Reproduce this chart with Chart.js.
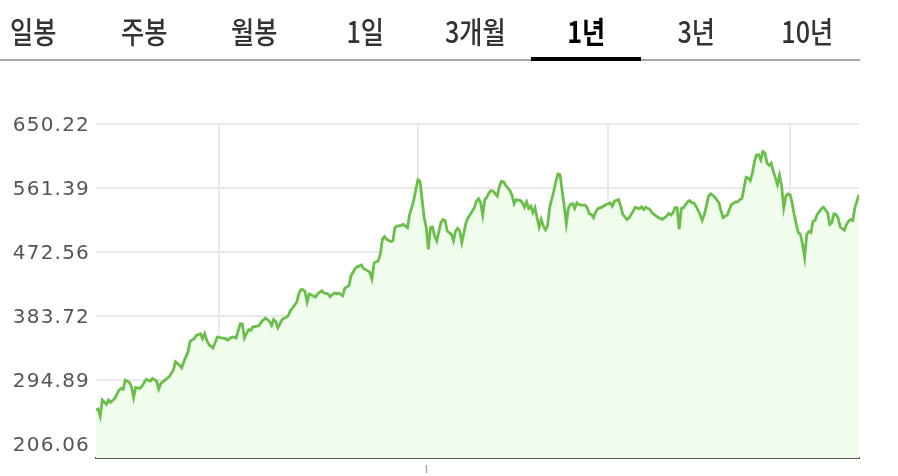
<!DOCTYPE html>
<html lang="ko">
<head>
<meta charset="utf-8">
<script src="https://cdn.jsdelivr.net/npm/chart.js@4.4.1/dist/chart.umd.min.js"></script>
<style>
  html,body{margin:0;padding:0;background:#fff;}
  body{width:898px;height:476px;position:relative;overflow:hidden;}
  #tabs{position:absolute;left:-22px;top:0;height:62px;display:flex;z-index:2;}
  .tab{width:110.5px;height:61px;position:relative;}
  .tab span{position:absolute;left:0;right:0;top:8px;text-align:center;line-height:44px;
    font:500 30px "Noto Sans CJK KR","Noto Sans",sans-serif;color:#333;
    transform:scaleX(0.84);}
  .tab.on span{color:#000;font-weight:700;}
  .tab.on::after{content:'';position:absolute;left:0;right:0;bottom:0;height:4px;background:#000;}
  #rule{position:absolute;left:0;top:59px;width:860px;height:2px;background:#aaa;z-index:1;}
  #chart{position:absolute;left:0;top:0;}
</style>
</head>
<body>
<div id="rule"></div>
<div id="tabs"></div>
<canvas id="chart" width="898" height="476"></canvas>
<script>
const tabs = ['일봉','주봉','월봉','1일','3개월','1년','3년','10년'];
const activeTab = '1년';

// day offset inside the 1 year window
const days = [0,1,2,3,5,6,7,9,11,12,13,14,16,17,18,19,21,22,23,24,25,26,27,29,30,31,33,35,37,38,40,41,42,44,45,47,48,50,51,52,53,54,56,58,60,62,63,65,66,67,69,70,71,72,73,74,75,77,78,79,81,82,83,84,85,86,87,88,89,91,92,93,94,96,97,98,99,100,101,102,103,105,106,108,109,111,112,114,115,116,118,119,121,122,124,125,127,128,130,131,132,133,134,135,136,137,138,139,141,142,143,144,146,147,149,150,151,152,153,154,155,156,157,158,159,160,161,162,163,165,166,167,168,169,170,171,172,173,174,175,176,177,178,179,181,182,183,184,185,186,187,188,189,190,192,193,194,195,196,198,199,200,201,203,204,205,206,207,208,209,210,211,212,213,214,215,216,217,219,220,221,222,223,224,225,226,227,228,229,230,231,232,234,235,236,237,238,239,240,242,244,245,246,247,248,250,251,252,254,255,257,258,260,261,262,263,265,266,268,269,271,273,274,275,276,277,278,279,280,281,283,284,285,286,287,289,290,291,292,293,294,295,296,298,299,300,301,302,303,304,306,307,308,309,310,311,312,313,314,315,316,317,318,319,320,321,322,323,324,325,326,327,328,329,330,331,332,333,334,335,336,337,338,339,340,341,342,343,344,345,347,348,350,351,352,353,354,355,356,358,359,360,361,362,363,365];
const closes = [253.4,254.8,244.7,267.2,261.3,267.2,264.0,269.5,281.0,283.3,282.0,294.8,291.6,285.7,270.5,284.7,283.3,286.5,291.2,295.7,294.8,293.4,297.1,293.4,282.4,290.2,294.8,299.5,308.6,320.2,315.5,311.9,320.2,334.0,348.6,352.3,356.9,359.2,352.3,359.2,350.0,344.0,339.5,354.6,353.3,352.3,350.5,354.6,354.6,353.3,373.0,373.0,353.3,359.2,365.1,363.8,368.4,369.8,370.6,375.3,380.9,378.9,376.2,370.6,378.9,376.2,367.5,373.0,378.9,382.2,384.4,391.3,394.7,402.9,414.4,420.3,420.3,417.6,402.9,414.4,413.0,410.0,414.4,418.9,415.8,414.4,410.7,415.8,414.4,415.8,412.0,422.2,425.8,439.6,449.8,452.0,454.4,449.8,446.5,444.3,435.1,457.1,458.9,460.3,469.6,490.2,494.0,490.2,487.1,487.9,506.4,508.6,509.6,510.9,506.4,524.7,534.0,544.5,559.2,573.0,570.7,545.4,520.2,506.4,476.4,506.4,507.2,494.8,487.9,513.3,517.8,516.5,501.7,499.5,497.1,487.9,501.7,505.4,501.7,485.7,499.5,513.3,520.2,524.7,534.0,543.1,546.4,540.9,523.8,545.4,549.1,554.7,557.8,556.9,550.0,563.8,570.7,569.8,565.1,557.8,551.4,539.5,545.4,544.0,540.9,534.8,542.2,533.0,536.2,527.1,534.0,520.2,507.2,517.8,508.6,503.3,508.6,534.0,556.9,570.7,580.9,579.9,556.9,536.2,511.9,534.0,538.5,539.5,533.0,540.9,538.5,537.6,537.6,534.0,525.7,524.7,520.2,527.9,532.6,534.8,538.5,539.5,540.9,536.2,543.1,545.4,536.2,524.7,517.8,520.2,529.3,534.8,532.6,535.4,531.6,534.8,531.6,527.1,522.4,520.6,517.8,522.4,526.1,523.8,527.1,534.0,534.0,504.0,533.0,534.0,542.2,544.0,540.9,540.9,536.2,524.7,516.5,524.7,536.2,550.0,553.3,551.4,548.6,540.9,529.3,520.2,522.4,523.8,531.6,538.5,542.2,542.2,545.4,546.8,561.6,576.2,575.4,571.6,582.2,598.3,607.5,607.5,600.6,612.0,609.8,596.0,592.7,596.0,584.5,575.4,566.1,578.9,563.8,534.0,550.0,553.3,552.3,540.9,524.7,510.9,499.5,497.1,483.3,465.0,497.1,500.9,499.5,515.5,516.5,524.7,532.6,534.8,527.1,510.9,513.3,525.7,524.7,520.2,507.2,502.7,510.9,515.5,517.8,516.5,534.0,552.3];

const yTicks = [206.06, 294.89, 383.72, 472.56, 561.39, 650.22];
const yMin = 186.75;
const quarterDays = [59, 154, 245, 332];
const markerDay = 158;

const tabRow = document.querySelector('#tabs');
tabs.forEach(t=>{
  const d = document.createElement('div');
  d.className = 'tab' + (t===activeTab ? ' on' : '');
  d.innerHTML = `<span>${t}</span>`;
  tabRow.appendChild(d);
});

const MarkerTick = {
  id:'markerTick',
  beforeDraw(chart){ chart.ctx.letterSpacing = '1.2px'; },
  afterDraw(chart){
    const {ctx, chartArea, scales:{x}} = chart;
    const px = Math.round(x.getPixelForValue(markerDay)) + 0.5;
    ctx.save();
    ctx.strokeStyle = '#aaa'; ctx.lineWidth = 1.5;
    ctx.beginPath();
    ctx.moveTo(px, chartArea.bottom + 7);
    ctx.lineTo(px, chartArea.bottom + 15);
    ctx.stroke();
    ctx.restore();
  }
};

const gridColor = '#eaeaee';

new Chart(document.querySelector('#chart'), {
  type:'line',
  data:{
    datasets:[{
      data: days.map((d,i)=>({x:d, y:closes[i]})),
      borderColor:'#6abf4b',
      backgroundColor:'#f0fdec',
      borderWidth:2.8,
      pointRadius:0,
      tension:0,
      fill:'start'
    }]
  },
  options:{
    responsive:false,
    animation:false,
    layout:{padding:{left:0, right:39, top:124, bottom:0}},
    plugins:{legend:{display:false}, tooltip:{enabled:false}},
    scales:{
      x:{
        type:'linear', min:0, max:365,
        afterBuildTicks(s){ s.ticks = quarterDays.map(v=>({value:v})); },
        afterFit(s){ s.height = 16; },
        ticks:{display:false},
        grid:{color:gridColor, lineWidth:2, drawTicks:false},
        border:{display:true, color:'#5a5a5a', width:2}
      },
      y:{
        min:yMin, max:650.22,
        afterBuildTicks(s){ s.ticks = yTicks.map(v=>({value:v})); },
        afterFit(s){ s.width = 96; },
        ticks:{
          padding:6, color:'#555', labelOffset:2,
          font:{family:'"DejaVu Sans", Verdana, sans-serif', size:20},
          callback:v=>v.toFixed(2)
        },
        grid:{color:gridColor, lineWidth:2, drawTicks:false},
        border:{display:false}
      }
    }
  },
  plugins:[MarkerTick]
});
</script>
</body>
</html>
